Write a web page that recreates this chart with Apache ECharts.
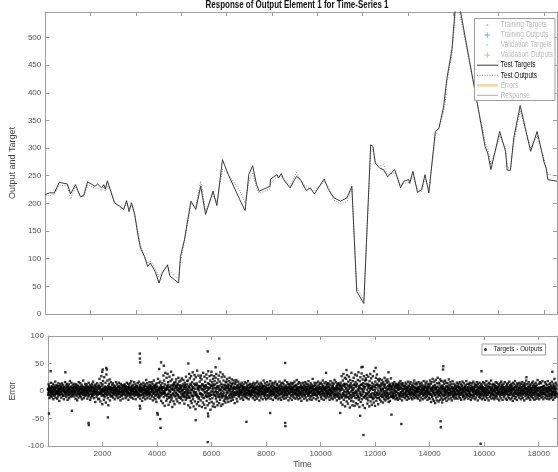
<!DOCTYPE html>
<html>
<head>
<meta charset="utf-8">
<script src="https://cdn.jsdelivr.net/npm/echarts@6/dist/echarts.min.js"></script>
<style>
  html, body { margin: 0; padding: 0; background: #fff; }
  #chart { width: 558px; height: 472px; }
</style>
</head>
<body>
<div id="chart"></div>
<script>
// response panel (top), time in the panel's own axis units
var respTime = [0, 189, 404, 619, 976, 1118, 1333, 1548, 1695, 1867,
  2194, 2310, 2482, 2581, 2654, 2740, 2912, 3054, 3269, 3458,
  3587, 3699, 3802, 3944, 4086, 4202, 4374, 4516, 4632, 4847,
  5019, 5161, 5393, 5492, 5879, 5965, 6137, 6426, 6641, 6856,
  7071, 7398, 7570, 7815, 8073, 8576, 8817, 8976, 9148, 9320,
  9436, 9910, 9935, 10223, 10297, 10408, 10512, 10796, 11084, 11256,
  11514, 11686, 11871, 12301, 12490, 12731, 13019, 13307, 13522, 13737,
  14051, 14352, 14451, 14555, 14740, 14924, 15097, 15415, 15673, 15815,
  16030, 16073, 16215, 16417, 16602, 16748, 16920, 17204, 17363, 17565,
  17634, 17707, 17935, 18146, 19398, 19514, 19656, 20043, 20301, 20374,
  20516, 20662, 20946, 21406, 21694, 22008, 22094, 22167, 22570];
var testTargets = [216, 219, 219, 238, 235, 217, 234, 212, 214, 239,
  231, 235, 228, 234, 226, 241, 219, 201, 195, 189,
  205, 185, 201, 180, 143, 119, 104, 86, 92, 77,
  56, 74, 89, 69, 56, 104, 134, 204, 189, 231,
  180, 222, 196, 279, 252, 207, 187, 252, 268, 234,
  222, 231, 244, 252, 246, 254, 243, 228, 249, 243,
  223, 228, 217, 244, 225, 210, 204, 210, 231, 41,
  19, 306, 303, 273, 264, 261, 248, 261, 228, 240,
  243, 236, 258, 220, 225, 252, 219, 330, 336, 374,
  377, 424, 478, 585, 303, 291, 261, 330, 294, 260,
  260, 318, 377, 294, 330, 273, 264, 243, 240];
var testOutputs = [214, 214, 216, 233, 232, 208, 230, 214, 212, 234,
  227, 228, 223, 230, 222, 232, 221, 203, 196, 190,
  200, 190, 197, 182, 148, 124, 106, 92, 96, 82,
  68, 76, 86, 78, 62, 95, 130, 200, 194, 240,
  186, 216, 202, 262, 252, 224, 200, 240, 256, 226,
  218, 226, 236, 247, 248, 250, 245, 232, 256, 240,
  230, 226, 222, 240, 230, 206, 199, 203, 226, 48,
  25, 292, 298, 276, 268, 270, 252, 256, 234, 236,
  238, 241, 248, 226, 222, 244, 226, 322, 334, 366,
  380, 416, 470, 572, 310, 300, 270, 322, 300, 266,
  262, 310, 368, 300, 322, 280, 262, 252, 250];
var respMax = 22570;
var respYMax = 546;

// error panel (bottom): band values, evenly spaced in time
var errMax = 18670;
var errBand = [
  4,-7,12,-2,9,-13,1,6,-9,15,-4,3,-11,8,0,-6,13,-15,5,-1,10,-8,2,17,-12,7,-3,11,-5,-14,6,1,-10,14,-2,9,-18,3,-7,12,
  -3,8,-12,5,14,-6,0,11,-9,2,-15,7,4,-1,16,-8,10,-4,-11,6,13,-2,-16,9,1,-7,12,-13,3,18,-5,7,-10,0,15,-9,5,-3,11,-6,
  7,-10,2,13,-5,-1,9,-14,6,12,-8,3,-17,10,-2,5,-12,16,1,-6,8,-9,14,-4,-11,4,11,-15,0,7,-7,19,-3,-13,6,2,-9,13,-1,9,
  -8,5,12,-3,-14,8,1,-10,15,-6,4,-1,11,-16,7,2,-12,9,-5,13,-9,0,17,-7,6,-13,3,10,-2,-20,12,-4,8,-11,1,14,-6,5,-15,9,
  10,-14,22,-5,6,-19,14,-2,27,-9,3,-24,12,18,-7,1,-16,25,-11,8,-3,15,-21,5,30,-8,-1,19,-13,9,-26,4,13,-6,21,-17,7,-10,16,2,
  3,-9,11,-4,14,-12,6,0,-7,10,-15,2,8,-3,16,-10,5,-1,12,-8,-13,7,1,15,-5,9,-11,4,-17,13,-2,6,-9,11,0,-14,8,3,-6,10,
  -5,12,-1,7,-13,9,4,-10,15,-3,1,-8,13,-16,6,10,-4,2,-11,14,-7,5,18,-12,0,8,-6,11,-14,3,-2,16,-9,7,-4,12,-15,1,9,-7,
  8,-2,14,-11,5,-6,17,-9,2,11,-14,6,-1,13,-7,4,-18,10,1,-12,15,-4,7,-10,3,12,-15,9,-3,20,-8,0,14,-13,6,-5,10,-9,2,16,
  -6,11,-14,4,9,-2,16,-10,1,13,-17,7,-4,19,-12,5,10,-8,-15,12,3,-20,14,-1,8,-11,22,-6,2,15,-13,6,-3,17,-9,11,-18,4,7,-5,
  14,-22,6,28,-11,19,-3,-27,12,33,-8,2,-18,24,9,-14,31,-5,16,-25,7,-12,26,0,-20,18,-9,35,-16,4,21,-29,11,-6,29,-19,3,15,-24,10,
  -9,16,-4,21,-15,8,2,-19,13,-7,24,-12,5,17,-22,10,-2,19,-14,6,-10,23,1,-17,12,-5,20,-11,7,-23,15,-3,11,-16,26,-8,4,-13,18,-1,
  19,-26,8,-12,31,-4,23,-30,13,-18,27,2,-22,16,-9,34,-15,6,-28,21,-2,29,-19,11,-33,25,-7,14,-24,37,-11,5,-20,28,-14,9,-27,17,-5,24,
  -17,28,-6,21,-29,12,3,-21,33,-13,8,-25,26,-2,17,-31,10,-9,30,-18,23,-4,-26,14,36,-10,5,-22,27,-15,19,-34,9,-7,29,-20,16,-1,-28,22,
  12,-23,27,-8,18,-29,5,24,-14,31,-3,-19,15,-26,9,21,-11,28,-22,2,17,-16,34,-6,-27,13,25,-12,7,-24,30,-9,19,-18,4,26,-15,11,-21,16,
  -11,17,-4,22,-15,7,12,-20,3,18,-9,24,-13,1,15,-18,9,-6,21,-12,5,-16,14,-2,19,-10,6,-22,13,-7,16,-3,20,-14,8,-19,11,-5,17,-9,
  5,-10,13,-3,8,-14,2,11,-7,15,-1,-12,9,4,-16,12,-5,7,-9,16,0,-11,6,-4,14,-13,3,10,-8,18,-2,-15,11,1,-6,13,-10,7,-3,9,
  -7,12,-2,9,-13,5,15,-9,1,11,-16,6,-4,14,-11,3,8,-14,17,-6,2,-10,13,-1,7,-17,10,4,-8,15,-12,0,12,-5,9,-15,6,-3,19,-9,
  9,-4,14,-12,3,7,-15,11,-1,16,-8,2,-13,10,5,-10,13,-6,-2,18,-14,8,1,-9,12,-5,15,-16,4,10,-7,-1,14,-11,6,17,-13,3,-8,11,
  -2,13,-10,6,-15,9,1,-7,17,-12,4,11,-5,-16,14,-3,8,-11,15,2,-9,12,-14,6,-1,19,-8,3,-13,10,7,-6,16,-10,0,13,-17,5,-4,12,
  6,-13,10,-1,15,-8,3,-16,12,5,-10,14,-3,8,-12,17,-6,1,-14,11,-4,9,20,-11,4,-7,13,-15,2,16,-9,7,-2,-13,14,-5,10,-18,6,1,
  -10,7,15,-4,11,-14,2,9,-8,16,-1,-12,13,4,-17,8,-3,12,-9,18,-6,1,-15,10,5,-11,14,-2,7,-16,11,-5,22,-8,3,-13,9,-1,15,-7,
  11,-6,3,-15,14,-9,8,1,-12,17,-4,10,-18,5,13,-7,-2,15,-11,6,-14,12,0,-8,19,-3,9,-16,4,14,-10,2,-6,16,-13,7,11,-9,-1,13,
  -4,14,-11,8,2,-16,12,-6,18,-9,1,-13,10,-2,15,-15,7,4,-10,13,-5,20,-12,3,-7,16,-1,9,-17,6,12,-8,-3,14,-11,5,-14,10,2,-6,
  15,-21,8,27,-12,3,-25,19,-6,31,-16,10,-2,24,-28,13,-9,22,5,-19,29,-11,1,-23,17,-4,26,-14,8,-30,20,-7,14,-18,33,-10,2,-26,18,-3,
  -19,24,-7,12,-27,30,-3,16,-22,9,-13,28,-1,-24,20,-10,34,-16,6,-29,18,-5,25,-20,11,-8,32,-15,3,21,-26,14,-2,27,-12,7,-31,19,-9,23,
  20,-14,29,-6,-23,13,-17,26,-2,9,-28,18,-11,31,-19,5,23,-9,-25,15,-4,27,-15,8,-21,36,-12,2,-27,17,-7,24,-18,11,30,-13,-3,21,-24,10,
  -13,18,-6,22,-16,9,1,-19,14,-8,20,-11,4,-21,16,-3,12,-15,24,-7,6,-17,19,-1,-12,15,-9,21,-14,3,17,-20,10,-5,13,-18,8,-2,23,-10,
  8,-11,3,14,-6,-13,10,1,-9,16,-3,7,-15,12,-1,-7,13,-12,5,11,-16,2,9,-5,15,-10,4,-14,18,-2,6,-8,12,-17,1,14,-6,9,-11,3,
  -6,10,-13,4,15,-2,-9,12,-16,7,1,-11,17,-5,9,-14,3,13,-8,-1,16,-12,6,-4,11,-15,8,2,-10,14,-7,19,-13,5,-3,12,-9,0,15,-12,
  12,-3,7,-14,1,16,-10,5,-7,13,-17,9,2,-12,15,-5,-1,11,-15,8,-8,18,-4,3,-13,10,-6,14,-11,0,17,-9,4,-16,12,-2,7,-12,13,-5,
  -14,19,-7,13,-20,6,16,-11,2,22,-15,9,-4,-18,17,-8,11,-22,4,20,-12,7,-17,14,-2,24,-10,1,-19,15,-6,12,-16,21,-9,3,18,-13,8,-21,
  10,-16,4,17,-9,13,-3,-14,19,-7,2,-12,15,-18,8,-1,14,-10,6,-15,21,-4,11,-8,3,16,-13,-2,12,-17,7,-6,18,-11,1,13,-9,5,-14,9,
  -3,11,-12,6,-8,15,1,-14,9,-5,13,-1,-10,7,16,-13,4,-7,12,-16,2,10,-4,17,-11,5,-9,14,-2,-15,8,3,-12,11,-6,18,-10,1,-7,13,
  7,-14,2,12,-9,-3,15,-11,5,-16,10,1,-7,14,-13,8,-2,17,-10,4,-6,13,-15,9,0,-12,11,-4,16,-8,3,-17,12,-1,6,-11,15,-5,9,-13,
  -9,4,13,-6,10,-15,7,-1,16,-12,3,-8,14,-3,-16,11,5,-10,18,-7,1,-13,12,-4,8,-17,15,-2,6,-11,13,-9,2,19,-14,4,-6,11,-1,-12,
  13,-8,1,-15,11,6,-12,16,-4,9,-10,2,15,-14,7,-5,12,-1,-17,10,4,-9,14,-13,3,17,-7,-2,11,-16,8,-4,13,-11,5,-8,16,-3,1,-14,
  -1,9,-16,12,-5,14,-10,3,8,-13,17,-7,0,11,-15,6,-3,13,-12,9,2,-18,15,-6,4,-9,12,-14,18,-2,7,-11,10,-5,-16,14,1,-8,12,-4,
  6,-12,15,-3,10,-8,-15,13,2,-10,7,16,-6,-13,11,-1,9,-17,14,3,-9,12,-5,19,-14,4,-2,13,-11,8,-7,16,-13,1,10,-4,-16,12,5,-9,
  -11,14,2,-7,17,-13,8,-3,12,-16,5,9,-10,15,-1,-14,11,4,-8,20,-12,6,-5,13,-15,3,16,-9,1,-6,14,-12,7,-2,18,-10,3,-15,9,-4,
  9,-5,16,-12,4,13,-8,1,-14,11,-3,18,-10,6,-1,-15,12,7,-9,14,-13,2,10,-6,17,-11,5,-2,-16,13,-7,9,22,-12,3,-8,15,-4,11,-10
];
// denser core of the band, interleaved between the points above
var errCore = [
  2,-4,6,-1,3,-7,0,5,-3,8,-6,1,-2,4,-8,7,-5,3,0,-4,6,-1,9,-6,2,-3,5,-7,1,4,-2,8,-5,0,3,-8,6,-1,2,-4,
  -1,5,-6,3,0,7,-4,2,-8,6,-2,4,-5,1,8,-3,0,-7,5,-1,3,-6,7,-2,-4,2,6,-8,1,-3,9,-5,4,0,-6,3,-2,7,-4,1,
  4,-2,-5,8,1,-6,3,-3,6,0,-7,5,2,-4,7,-1,-8,4,1,6,-5,0,3,-9,5,-2,8,-4,0,2,-6,4,-1,7,-3,1,-7,5,-2,6,
  -5,3,7,-1,-4,2,9,-6,0,4,-2,6,-8,3,1,-5,7,-3,2,-7,5,-1,4,-4,8,0,-6,3,-2,6,-9,1,5,-3,2,-5,7,0,-4,3,
  1,-6,4,2,-3,8,-5,0,6,-2,3,-7,5,1,-4,7,-1,-6,9,-3,2,4,-8,0,6,-5,1,3,-2,7,-4,5,-7,2,0,-3,8,-1,4,-6,
  3,0,-5,6,-2,4,-7,1,5,-3,8,-1,-6,2,4,-4,7,0,-8,3,6,-2,1,-5,5,-7,2,9,-3,0,4,-6,3,-1,7,-4,1,-2,6,-5,
  -3,7,-1,4,-8,2,5,-5,0,9,-4,3,-2,6,-7,1,8,-3,0,-6,4,2,-9,5,-1,7,-4,3,-6,1,6,-2,-5,8,0,-3,4,-7,2,5,
  6,-9,3,11,-5,1,-11,7,-2,10,-7,4,-12,2,8,-4,12,-8,0,5,-10,9,-3,6,-6,11,1,-9,4,-1,10,-12,3,7,-5,0,9,-7,2,-3,
  -8,4,10,-2,-11,7,1,-6,12,-4,3,-9,8,0,-12,5,11,-3,-7,9,2,-10,6,-1,13,-5,-8,4,10,-2,-6,11,-9,3,7,-11,1,8,-4,5,
  9,-5,-10,3,12,-7,1,8,-12,4,-3,10,-8,6,0,-11,7,2,-6,13,-4,-9,5,11,-1,-7,9,-13,3,6,-5,10,-2,-8,12,0,-10,4,7,-6,
  -2,8,-7,5,-11,1,10,-4,3,-9,7,0,-6,11,-3,4,-10,8,2,-7,5,-1,9,-12,6,-3,1,10,-8,4,-5,7,-2,12,-9,3,0,-6,8,-4,
  4,-3,6,-7,1,5,-2,8,-5,0,3,-6,7,-1,-4,2,9,-3,5,-8,0,4,-5,6,-2,1,-7,3,8,-4,2,-1,6,-6,0,5,-3,7,-8,1,
  -6,2,5,-1,7,-4,0,3,-8,6,-2,4,-5,8,1,-3,6,-7,2,0,-4,7,-1,5,-6,3,-2,9,-5,1,4,-7,0,6,-3,2,-8,5,-1,4,
  1,6,-4,3,-7,0,8,-2,5,-5,2,-1,7,-6,4,-3,0,6,-8,3,5,-4,1,-2,7,-5,2,8,-6,0,3,-3,6,-1,-7,4,2,-5,8,-2,
  -4,5,0,-7,3,6,-1,-5,8,2,-3,4,-8,1,7,-2,5,-6,0,3,-4,9,-3,1,6,-7,2,-1,5,-5,7,0,-2,4,-6,8,-3,1,-8,6,
  5,-1,-6,4,2,-8,7,-3,0,6,-5,3,1,-7,8,-2,4,-4,6,0,-9,5,-1,2,7,-6,3,-3,9,-4,1,5,-7,2,-2,6,-5,0,4,-3,
  -2,7,-5,1,4,-6,3,8,-1,-4,5,-8,2,6,-3,0,7,-5,4,-1,-6,8,1,-3,5,-7,3,0,-4,6,-2,9,-6,2,-1,4,-8,5,3,-5,
  7,-10,2,12,-6,4,-13,9,-1,11,-8,3,-11,6,10,-4,-9,13,1,-7,8,-12,5,-2,12,-6,0,9,-11,4,-3,11,-8,7,-1,-13,6,10,-5,2,
  -9,5,11,-3,-12,8,0,-7,13,-5,3,-10,9,1,-13,6,-2,11,-8,4,12,-6,-1,9,-11,3,7,-9,13,-4,-7,10,2,-12,6,-3,11,-8,5,1,
  10,-6,-11,4,8,-13,2,12,-5,-8,7,-2,11,-10,5,-4,13,-7,1,9,-12,6,-3,10,-9,4,-1,12,-6,3,-11,8,0,-7,11,-4,-10,6,2,-5,
  -3,9,-8,6,-12,2,11,-5,4,-10,8,-1,-7,12,-4,5,-11,9,1,-8,6,-2,10,-13,7,-4,2,11,-9,5,-6,8,-3,13,-10,4,-1,-7,9,-5,
  4,-3,7,-6,1,5,-8,2,6,-1,-4,8,-5,3,0,-7,6,-2,4,-5,9,-3,1,-6,7,0,-4,5,-8,2,3,-1,6,-7,4,-2,8,-5,1,-3,
  -5,6,-1,3,-8,4,1,-6,7,-2,5,-4,0,8,-7,2,-3,6,-5,9,-1,3,-6,4,0,-8,5,-2,7,-4,1,6,-3,-7,3,5,-1,-5,8,-2,
  2,-7,5,0,-3,8,-4,6,-1,-6,3,7,-8,1,4,-2,6,-5,0,9,-3,2,-7,5,-4,1,8,-6,3,-1,-5,7,-2,4,-8,6,0,-4,3,-6,
  -1,4,-6,7,2,-5,0,8,-3,5,-7,1,6,-4,3,-2,9,-6,0,4,-8,5,-1,7,-3,2,-5,6,-7,1,4,-2,8,-4,0,-6,5,3,-8,2,
  6,-2,3,-8,5,0,-5,7,-3,1,8,-6,2,-1,6,-4,0,-7,5,3,-2,7,-5,1,4,-8,6,-3,0,5,-6,2,-1,8,-4,3,-7,1,6,-3,
  -4,8,-1,2,-6,5,-3,7,0,-5,4,-7,9,1,-2,6,-8,3,5,-4,0,7,-6,2,-1,4,-5,8,-3,1,6,-7,2,-2,5,-4,7,0,-6,3,
  3,-5,7,-2,0,6,-7,1,4,-3,8,-6,2,-1,5,-8,3,6,-4,1,-2,7,-5,0,4,-6,8,-3,2,-7,5,1,-4,6,-1,-5,3,7,-2,0,
  -6,1,4,-4,8,-2,5,-7,0,3,-5,6,-1,2,-8,7,-3,4,0,-6,5,-2,9,-4,1,6,-7,3,-1,-5,8,-3,2,5,-6,0,4,-8,6,-2,
  5,-3,-1,7,-6,2,4,-5,8,0,-4,3,-7,6,1,-2,5,-8,4,-1,7,-6,2,3,-5,0,6,-3,-7,8,1,-4,5,-2,3,-6,7,-1,4,-5
];
// isolated points outside the band
var outTime = [40, 100, 640, 880, 1490, 1500, 1990, 2010, 2140, 2160,
  2200, 3370, 3375, 3380, 3370, 3385, 4010, 4030, 4120, 4130,
  4150, 4080, 4250, 5150, 5420, 5860, 5870, 5880, 5860, 6280,
  6150, 6000, 7280, 8150, 8700, 8700, 8710, 11450, 11570, 11500,
  11540, 12020, 12490, 10720, 10950, 12960, 14400, 14410, 14490, 14500,
  15900, 15870, 18500, 17550, 12600, 10200];
var outVal = [-41, 36, 34, -36, -58, -62, 35, 39, 42, 39,
  -48, 68, 59, 52, -27, -32, -40, -43, -51, -67,
  52, 40, 46, 50, -53, 72, -41, -46, -93, 59,
  43, 35, -56, -40, 51, -58, -64, -45, -80, 43,
  44, 42, 34, -40, 38, -60, -55, -66, 39, 45,
  36, -96, 35, 25, -43, 33];

var legendNames = ['Training Targets', 'Training Outputs', 'Validation Targets', 'Validation Outputs',
  'Test Targets', 'Test Outputs', 'Errors', 'Response'];

var FONT = 'Arial, "Liberation Sans", sans-serif';
var frame = '#9d9d9d';
var tickColor = '#555';

var respData = respTime.map(function (t, i) { return [t, testTargets[i]]; });
var outData = respTime.map(function (t, i) { return [t, testOutputs[i]]; });
var step = errMax / errBand.length;
var errData = errBand.map(function (v, i) { return [i * step, v]; });
var step2 = errMax / errCore.length;
errCore.forEach(function (v, i) { errData.push([(i + 0.5) * step2, v]); });
for (var k = 0; k < outTime.length; k++) {
  errData.push([outTime[k], outVal[k]]);
}

function plain(v) { return String(v); }

function xAx(grid, pos, max, extra) {
  var a = {
    gridIndex: grid, type: 'value', position: pos, min: 0, max: max, interval: 2000,
    axisLine: { onZero: false, lineStyle: { color: frame, width: 1 } },
    axisTick: { inside: true, length: 4, lineStyle: { color: frame } },
    axisLabel: { show: false },
    splitLine: { show: false }
  };
  return Object.assign(a, extra || {});
}
function yAx(grid, pos, min, max, extra) {
  var a = {
    gridIndex: grid, type: 'value', position: pos, min: min, max: max, interval: 50,
    axisLine: { onZero: false, lineStyle: { color: frame, width: 1 } },
    axisTick: { inside: true, length: 4, lineStyle: { color: frame } },
    axisLabel: { show: false },
    splitLine: { show: false }
  };
  return Object.assign(a, extra || {});
}

// legend of the response panel and the title, drawn as graphics (narrowed text)
var legendStyle = {
  'Training Targets': { kind: 'dot', color: '#b3b3ff', text: '#bdbdbd' },
  'Training Outputs': { kind: 'plus', color: '#9a9aff', text: '#bdbdbd' },
  'Validation Targets': { kind: 'dot', color: '#a8e6a8', text: '#bdbdbd' },
  'Validation Outputs': { kind: 'plus', color: '#8fe08f', text: '#bdbdbd' },
  'Test Targets': { kind: 'line', color: '#3a3a3a', text: '#111' },
  'Test Outputs': { kind: 'dotted', color: '#8c8c8c', text: '#111' },
  'Errors': { kind: 'thick', color: '#ffd49e', text: '#bdbdbd' },
  'Response': { kind: 'line', color: '#b0b0b0', text: '#bdbdbd' }
};
var g = [{
  type: 'text', z: 100, x: 297, y: 5.5, scaleX: 0.76,
  style: { text: 'Response of Output Element 1 for Time-Series 1', fill: '#111', fontSize: 10.5,
    fontWeight: 'bold', fontFamily: FONT, align: 'center', verticalAlign: 'middle' }
}, {
  type: 'rect', z: 100,
  shape: { x: 474.5, y: 18.5, width: 80.5, height: 82 },
  style: { fill: '#fff', stroke: frame, lineWidth: 1 }
}];
legendNames.forEach(function (name, i) {
  var s = legendStyle[name];
  var cy = 25 + 10.05 * i;
  if (s.kind === 'dot') {
    g.push({ type: 'circle', z: 101, shape: { cx: 487.3, cy: cy, r: 1 }, style: { fill: s.color } });
  } else if (s.kind === 'plus') {
    g.push({ type: 'line', z: 101, shape: { x1: 484.5, y1: cy, x2: 490, y2: cy }, style: { stroke: s.color, lineWidth: 1 } });
    g.push({ type: 'line', z: 101, shape: { x1: 487.3, y1: cy - 2.7, x2: 487.3, y2: cy + 2.7 }, style: { stroke: s.color, lineWidth: 1 } });
  } else {
    g.push({
      type: 'line', z: 101, shape: { x1: 477, y1: cy, x2: 498, y2: cy },
      style: {
        stroke: s.color,
        lineWidth: s.kind === 'thick' ? 2.5 : 1,
        lineDash: s.kind === 'dotted' ? [1, 1.5] : null
      }
    });
  }
  g.push({
    type: 'text', z: 101, x: 500.7, y: cy, scaleX: 0.78,
    style: { text: name, fill: s.text, fontSize: 8.3, fontFamily: FONT, verticalAlign: 'middle', align: 'left' }
  });
});

var chart = echarts.init(document.getElementById('chart'), null, { renderer: 'canvas' });
chart.setOption({
  animation: false,
  backgroundColor: '#fff',
  grid: [
    { left: 32, top: 12, right: 1, height: 302 },
    { left: 32, top: 336, right: 1, height: 110 }
  ],
  xAxis: [
    xAx(0, 'bottom', respMax),
    xAx(0, 'top', respMax),
    xAx(1, 'bottom', errMax, {
      name: 'Time', nameLocation: 'middle', nameGap: 14,
      nameTextStyle: { fontSize: 8.5, color: '#444', fontFamily: FONT },
      axisLabel: { show: true, showMinLabel: false, showMaxLabel: false, margin: 4,
        fontSize: 8, color: tickColor, fontFamily: FONT, formatter: plain }
    }),
    xAx(1, 'top', errMax)
  ],
  yAxis: [
    yAx(0, 'left', 0, respYMax, {
      name: 'Output and Target', nameLocation: 'middle', nameGap: 16,
      nameTextStyle: { fontSize: 9, color: '#444', fontFamily: FONT },
      axisLabel: { show: true, showMaxLabel: false, margin: 4, fontSize: 8, color: tickColor,
        fontFamily: FONT, formatter: plain }
    }),
    yAx(0, 'right', 0, respYMax),
    yAx(1, 'left', -100, 100, {
      name: 'Error', nameLocation: 'middle', nameGap: 16,
      nameTextStyle: { fontSize: 8.5, color: '#444', fontFamily: FONT },
      axisLabel: { show: true, margin: 4, fontSize: 8, color: tickColor, fontFamily: FONT, formatter: plain }
    }),
    yAx(1, 'right', -100, 100)
  ],
  legend: {
    data: ['Targets - Outputs'],
    left: 482, top: 344, orient: 'vertical',
    icon: 'circle', itemWidth: 6, itemHeight: 3, itemGap: 0,
    padding: [1, 3, 1, 2],
    borderColor: frame, borderWidth: 1, backgroundColor: '#fff',
    textStyle: { fontSize: 6.4, lineHeight: 9, color: '#222', fontFamily: FONT }
  },
  series: [
    {
      name: 'Test Targets', type: 'line', xAxisIndex: 0, yAxisIndex: 0,
      data: respData, symbol: 'none', clip: true,
      lineStyle: { color: '#3a3a3a', width: 1 }, z: 3
    },
    {
      name: 'Test Outputs', type: 'line', xAxisIndex: 0, yAxisIndex: 0,
      data: outData, symbol: 'none', clip: true,
      lineStyle: { color: '#8c8c8c', width: 1, type: [1, 1.5] }, z: 2
    },
    {
      name: 'Targets - Outputs', type: 'scatter', xAxisIndex: 2, yAxisIndex: 2,
      data: errData, symbol: 'rect', symbolSize: 2.4,
      itemStyle: { color: '#000' }
    }
  ],
  graphic: g
});
</script>
</body>
</html>
